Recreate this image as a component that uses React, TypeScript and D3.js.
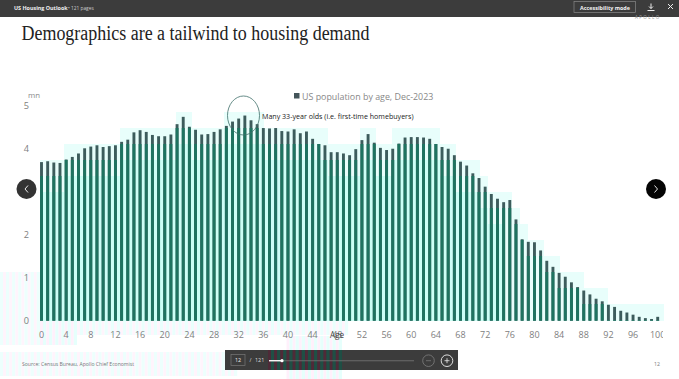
import React from "react";
import * as d3 from "d3";

const ages = d3.range(0, 101);
const population = [
  3.68, 3.7, 3.67, 3.66, 3.74, 3.8, 3.88, 4.0, 4.04, 4.07, 4.03, 4.05, 4.07, 4.15, 4.2, 4.37, 4.42, 4.38, 4.31, 4.28,
  4.28, 4.32, 4.56, 4.73, 4.5, 4.43, 4.32, 4.33, 4.38, 4.44, 4.52, 4.62, 4.69, 4.76, 4.65, 4.56, 4.47, 4.46, 4.47, 4.4,
  4.39, 4.44, 4.35, 4.39, 4.22, 4.1, 4.07, 3.91, 3.91, 3.88, 3.84, 3.98, 4.19, 4.33, 4.13, 4.01, 3.96, 3.99, 4.11, 4.25,
  4.26, 4.26, 4.25, 4.22, 4.1, 4.03, 3.99, 3.84, 3.69, 3.6, 3.42, 3.31, 3.11, 2.94, 2.83, 2.75, 2.8, 2.35, 1.89, 1.83,
  1.82, 1.63, 1.39, 1.25, 1.11, 1.02, 0.89, 0.78, 0.7, 0.61, 0.51, 0.45, 0.37, 0.32, 0.23, 0.19, 0.14, 0.09, 0.06, 0.04,
  0.09,
];
const xTicks = d3.range(0, 101, 4);
const yTicks = [0, 1, 2, 4, 5];

const W = 679;
const H = 379;
const sans = "'Open Sans', 'Noto Sans', sans-serif";

export default function App() {
  const x = d3.scaleLinear().domain([0, 100]).range([41.5, 657.7]);
  const y = d3.scaleLinear().domain([0, 5]).range([320.7, 105.2]);
  const barW = 2.9;
  const step = x(1) - x(0);

  // Compression halo: 8px columns, 16px rows, following the bar tops
  const cols = d3.range(40, 664, 8).map((cx) => {
    const inCol = (v: number) => v >= cx && v < cx + 8;
    const hits = ages.filter((a) => inCol(x(a)) || inCol(x(a) + barW / 2));
    const top = hits.length ? Math.floor(d3.min(hits, (a) => y(population[a]))! / 16) * 16 : null;
    return { cx, top };
  });

  // Compression ghost stripes, continuing the bar rhythm outside the plot
  const stripes = (from: number, to: number, y0: number, y1: number, pink: string, cyan: string) =>
    d3.range(from, to).map((a) => (
      <g key={`${a}-${y0}`}>
        <rect x={x(a) - barW / 2} y={y0} width={barW} height={y1 - y0} fill={pink} />
        <rect x={x(a) + barW / 2} y={y0} width={step - barW} height={y1 - y0} fill={cyan} />
      </g>
    ));

  return (
    <svg width={W} height={H} style={{ position: "absolute", left: 0, top: 0, background: "#fff" }}>
      {stripes(-7, 0, 272, 345, "#fff4fc", "#edfffd")}
      {stripes(0, 6, 321, 345, "#fff0fb", "#e6fffc")}
      {stripes(6, 50, 321, 335, "#fff4fc", "#eafffd")}
      {stripes(-7, 32, 352, 376, "#fff4fc", "#edfffd")}
      {stripes(40, 49, 336, 379, "#fff0fb", "#e6fffc")}

      {cols.map((c) =>
        c.top === null ? null : (
          <g key={c.cx}>
            <rect x={c.cx} y={c.top} width={8} height={321 - c.top} fill="#e8fefb" />
            {c.cx < 500 && <rect x={c.cx} y={c.top + 32} width={8} height={321 - c.top - 32} fill="#ccfff6" />}
          </g>
        ),
      )}
      {ages.map((a) => {
        const top = y(population[a]);
        const split = Math.ceil(top / 16) * 16;
        return (
          <g key={a}>
            <rect x={x(a) - barW / 2} y={top} width={barW} height={y(0) - top} fill="#3d5c5c" />
            {split < y(0) && (
              <rect x={x(a) - barW / 2} y={split} width={barW} height={y(0) - split} fill="#1e7360" />
            )}
          </g>
        );
      })}

      <rect x={0} y={0} width={W} height={17} fill="#3c3c3c" />
      <text x={14} y={10} fontSize={5.4} fontWeight={700} fontFamily={sans} fill="#f0f0f0">
        US Housing Outlook
      </text>
      <text x={68} y={10} fontSize={4.8} fontFamily={sans} fill="#ccc">
        • 121 pages
      </text>
      <rect x={574} y={1.5} width={61.5} height={11} fill="none" stroke="#888" strokeWidth={0.7} />
      <text x={605} y={10} fontSize={5.4} fontWeight={700} fontFamily={sans} fill="#f4f4f4" textAnchor="middle">
        Accessibility mode
      </text>
      <path d="M651 3.5v5M649 6.5l2 2 2-2M647.5 10.5h7" stroke="#eee" strokeWidth={1} fill="none" />
      <path d="M668 4l5 5M673 4l-5 5" stroke="#eee" strokeWidth={1} />
      <text x={635} y={19} fontSize={4.5} fontFamily={sans} fill="#999" letterSpacing={1.4}>
        APOLLO
      </text>

      <text
        x={21.5}
        y={39.5}
        fontSize={20.5}
        fontFamily="'Liberation Serif', serif"
        fill="#222"
        textLength={348}
        lengthAdjust="spacingAndGlyphs"
      >
        Demographics are a tailwind to housing demand
      </text>

      <text x={28} y={97.5} fontSize={7.8} fontFamily={sans} fill="#888">
        mn
      </text>
      {yTicks.map((t) => (
        <text key={t} x={26.5} y={y(t) + 3.5} textAnchor="middle" fontSize={9.2} fontFamily={sans} fill="#808080">
          {t}
        </text>
      ))}
      <defs>
        <clipPath id="tickClip">
          <rect x={0} y={325} width={663} height={20} />
        </clipPath>
      </defs>
      <g clipPath="url(#tickClip)">
        {xTicks.map((t) => (
          <text key={t} x={x(t)} y={338} textAnchor="middle" fontSize={9} fontFamily={sans} fill="#808080">
            {t}
          </text>
        ))}
      </g>
      <text x={337} y={337.5} textAnchor="middle" fontSize={8.2} fontFamily={sans} fill="#444">
        Age
      </text>

      <rect x={294} y={93} width={5.5} height={5.5} fill="#44555a" />
      <text x={302} y={100} fontSize={8.9} fontFamily={sans} fill="#888">
        US population by age, Dec-2023
      </text>
      <text x={262} y={118.5} fontSize={7.1} fontFamily={sans} fill="#222">
        Many 33-year olds (i.e. first-time homebuyers)
      </text>
      <ellipse cx={243.5} cy={115.5} rx={16} ry={19.5} fill="none" stroke="#3f6f6a" strokeWidth={0.8} />

      <text x={22} y={366} fontSize={5.1} fontFamily={sans} fill="#777">
        Source: Census Bureau, Apollo Chief Economist
      </text>
      <text x={660} y={366} fontSize={5.2} fontFamily={sans} fill="#777" textAnchor="end">
        12
      </text>

      <circle cx={26.5} cy={189} r={10} fill="#333" />
      <path d="M28 185.5l-3 3.5 3 3.5" fill="none" stroke="#fff" strokeWidth={0.9} />
      <circle cx={656} cy={189} r={10} fill="#050505" />
      <path d="M654.5 185.5l3 3.5-3 3.5" fill="none" stroke="#fff" strokeWidth={0.9} />

      <rect x={225} y={350} width={233} height={20} fill="#3c3c3c" />
      {stripes(37, 49, 350, 370, "#4f2a38", "#1f4f45")}
      <rect x={231} y={354.5} width={14} height={11} fill="none" stroke="#777" strokeWidth={0.7} />
      <text x={238} y={362} fontSize={5.4} textAnchor="middle" fontFamily={sans} fill="#eee">
        12
      </text>
      <text x={249.5} y={362} fontSize={5.4} fontFamily={sans} fill="#ddd">
        /
      </text>
      <text x={255} y={362} fontSize={5.4} fontFamily={sans} fill="#ddd">
        121
      </text>
      <rect x={269} y={360.4} width={145} height={0.8} fill="#777" />
      <rect x={269} y={360} width={13} height={1.4} fill="#f4f4f4" />
      <circle cx={282} cy={360.7} r={1.6} fill="#fff" />
      <circle cx={428.5} cy={360.7} r={5.8} fill="none" stroke="#777" strokeWidth={0.9} />
      <path d="M426 360.7h5" stroke="#777" strokeWidth={0.8} />
      <circle cx={447} cy={360.7} r={5.8} fill="none" stroke="#eee" strokeWidth={0.9} />
      <path d="M444.5 360.7h5M447 358.2v5" stroke="#eee" strokeWidth={0.8} />
    </svg>
  );
}
